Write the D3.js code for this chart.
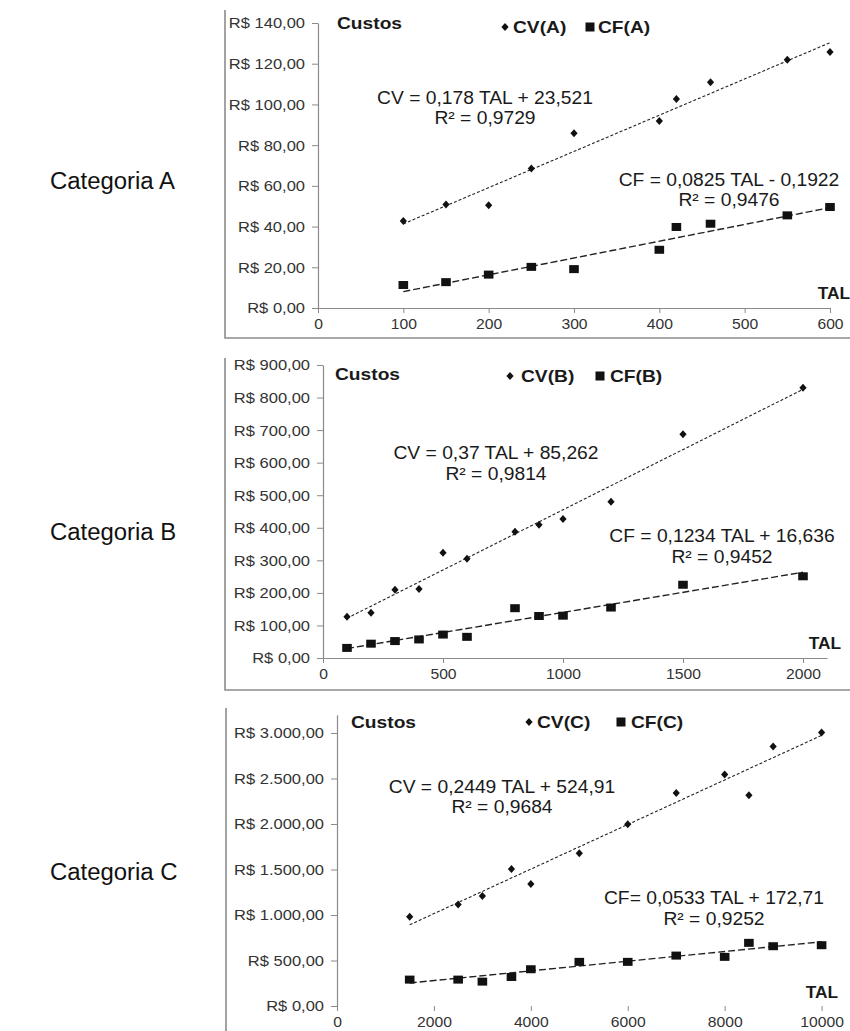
<!DOCTYPE html>
<html>
<head>
<meta charset="utf-8">
<script src="https://cdn.jsdelivr.net/npm/d3@7"></script>
<style>
  body { margin: 0; background: #fff; }
  svg { display: block; }
  text { font-family: "Liberation Sans", Arial, sans-serif; }
</style>
</head>
<body>
<svg id="chart" width="850" height="1031"></svg>
<script>
// ---- Data: cost (R$) by TAL, per category ----
const categories = ["Categoria A", "Categoria B", "Categoria C"];
const seriesCV = ["CV(A)", "CV(B)", "CV(C)"];
const seriesCF = ["CF(A)", "CF(B)", "CF(C)"];

const talA = [100, 150, 200, 250, 300, 400, 420, 460, 550, 600];
const cvA  = [42.7, 50.8, 50.5, 68.5, 85.8, 91.9, 102.7, 110.9, 121.9, 125.7];
const cfA  = [11.3, 12.7, 16.4, 20.2, 19.1, 28.6, 39.8, 41.4, 45.5, 49.6];

const talB = [100, 200, 300, 400, 500, 600, 800, 900, 1000, 1200, 1500, 2000];
const cvB  = [127, 139, 210, 212, 323, 305, 388, 409, 427, 480, 687, 830];
const cfB  = [31, 44, 52, 57, 72, 65, 153, 129, 130, 155, 225, 251];

const talC = [1500, 2500, 3000, 3600, 4000, 5000, 6000, 7000, 8000, 8500, 9000, 10000];
const cvC  = [980, 1116, 1208, 1505, 1340, 1678, 1997, 2342, 2544, 2316, 2852, 3006];
const cfC  = [290, 290, 268, 319, 404, 485, 485, 554, 540, 694, 657, 668];

// Linear trend lines (slope, intercept, R²)
const cvSlope = [0.178, 0.37, 0.2449];
const cvIntercept = [23.521, 85.262, 524.91];
const cvR2 = [0.9729, 0.9814, 0.9684];
const cfSlope = [0.0825, 0.1234, 0.0533];
const cfIntercept = [-0.1922, 16.636, 172.71];
const cfR2 = [0.9476, 0.9452, 0.9252];
const cfPrefix = ["CF = ", "CF = ", "CF= "];

// Axis ticks
const xTicksA = [0, 100, 200, 300, 400, 500, 600];
const yTicksA = [0, 20, 40, 60, 80, 100, 120, 140];
const xTicksB = [0, 500, 1000, 1500, 2000];
const yTicksB = [0, 100, 200, 300, 400, 500, 600, 700, 800, 900];
const xTicksC = [0, 2000, 4000, 6000, 8000, 10000];
const yTicksC = [0, 500, 1000, 1500, 2000, 2500, 3000];

// ---- Layout ----
const panels = [
  { tal: talA, cv: cvA, cf: cfA, xTicks: xTicksA, yTicks: yTicksA,
    xDomain: [0, 600], xRange: [318, 830], yDomain: [0, 140], yRange: [308, 23],
    frameTop: 10, frameBottom: 338, frameLeft: 225, xAxisLine: true,
    custos: [337, 23], legendY: 27, legendX: [505, 513, 590, 598],
    tal_: [834, 293], cvEq: [485, 98, 118], cfEq: [729, 180, 200], catY: 181 },
  { tal: talB, cv: cvB, cf: cfB, xTicks: xTicksB, yTicks: yTicksB,
    xDomain: [0, 2100], xRange: [323, 827], yDomain: [0, 900], yRange: [658, 365],
    frameTop: 358, frameBottom: 690, frameLeft: 225, xAxisLine: true,
    custos: [335, 374], legendY: 376, legendX: [510, 521, 600, 610],
    tal_: [825, 643], cvEq: [496, 453, 474], cfEq: [722, 536, 557], catY: 532 },
  { tal: talC, cv: cvC, cf: cfC, xTicks: xTicksC, yTicks: yTicksC,
    xDomain: [0, 10000], xRange: [337, 821.6], yDomain: [0, 3200], yRange: [1006, 714.8],
    frameTop: 708, frameBottom: 1040, frameLeft: 226, xAxisLine: false,
    custos: [351, 722], legendY: 722, legendX: [529, 537, 621, 631],
    tal_: [822, 992], cvEq: [502, 787, 807], cfEq: [714, 898, 919], catY: 872 }
];

const AXIS = "#8a8a8a";
const INK = "#1a1a1a";
const brl = d3.formatLocale({ decimal: ",", thousands: ".", grouping: [3], currency: ["R$ ", ""] });
const fmtMoney = v => "R$ " + brl.format(",.2f")(v);
const comma = v => String(Math.abs(v)).replace(".", ",");

const svg = d3.select("#chart");
svg.append("rect").attr("width", 850).attr("height", 1031).attr("fill", "#fff");

function label(g, x, y, txt, o = {}) {
  return g.append("text")
    .attr("transform", `translate(${x},${y}) scale(${o.sx || 1},1)`)
    .attr("text-anchor", o.anchor || "middle")
    .attr("dy", "0.35em")
    .style("font-size", (o.size || 14) + "px")
    .style("font-weight", o.bold ? "bold" : "normal")
    .attr("fill", o.fill || INK)
    .text(txt);
}

panels.forEach((p, i) => {
  const g = svg.append("g");

  // chart frame (left and bottom edges)
  g.append("path")
    .attr("d", `M${p.frameLeft},${p.frameTop} V${p.frameBottom} H852`)
    .attr("fill", "none").attr("stroke", "#8c8c8c").attr("stroke-width", 1.6);

  // category label
  label(g, 50, p.catY, categories[i], { anchor: "start", size: 23, sx: 1.04, fill: "#111" });

  const x = d3.scaleLinear().domain(p.xDomain).range(p.xRange);
  const y = d3.scaleLinear().domain(p.yDomain).range(p.yRange);

  // y axis
  const gy = g.append("g").attr("transform", `translate(${p.xRange[0]},0)`)
    .call(d3.axisLeft(y).tickValues(p.yTicks).tickFormat(fmtMoney).tickSize(6).tickSizeOuter(0));
  gy.select(".domain").attr("stroke", AXIS).attr("stroke-width", 1.2);
  gy.selectAll(".tick line").attr("stroke", AXIS);
  gy.selectAll(".tick text")
    .attr("x", null).attr("dy", "0.35em")
    .attr("transform", "translate(-13,0) scale(1.18,1)")
    .attr("text-anchor", "end")
    .style("font-size", "14px").attr("fill", "#333");

  // x axis
  const gx = g.append("g").attr("transform", `translate(0,${p.yRange[0]})`)
    .call(d3.axisBottom(x).tickValues(p.xTicks).tickFormat(d3.format("d")).tickSize(5).tickSizeOuter(0));
  gx.select(".domain").attr("stroke", p.xAxisLine ? AXIS : "none").attr("stroke-width", 1.2);
  gx.selectAll(".tick line").attr("stroke", AXIS);
  gx.selectAll(".tick text")
    .attr("y", null).attr("dy", "0.35em")
    .attr("transform", "translate(0,16) scale(1.12,1)")
    .style("font-size", "14px").attr("fill", "#333");

  // trend lines
  const ext = d3.extent(p.tal);
  const line = d3.line().x(d => x(d[0])).y(d => y(d[1]));
  g.append("path")
    .attr("d", line(ext.map(t => [t, cvSlope[i] * t + cvIntercept[i]])))
    .attr("fill", "none").attr("stroke", "#222").attr("stroke-width", 1.1)
    .attr("stroke-dasharray", "3,2");
  g.append("path")
    .attr("d", line(ext.map(t => [t, cfSlope[i] * t + cfIntercept[i]])))
    .attr("fill", "none").attr("stroke", "#222").attr("stroke-width", 1.4)
    .attr("stroke-dasharray", "7,3");

  // CV markers (diamonds)
  const diamond = "M0,-4 L3.6,0 L0,4 L-3.6,0 Z";
  g.selectAll(".cv").data(p.tal.map((t, k) => [t, p.cv[k]])).join("path")
    .attr("class", "cv")
    .attr("transform", d => `translate(${x(d[0])},${y(d[1])})`)
    .attr("d", diamond).attr("fill", "#111");

  // CF markers (squares)
  g.selectAll(".cf").data(p.tal.map((t, k) => [t, p.cf[k]])).join("rect")
    .attr("class", "cf")
    .attr("x", d => x(d[0]) - 4.8).attr("y", d => y(d[1]) - 4)
    .attr("width", 9.6).attr("height", 8).attr("fill", "#111");

  // titles
  label(g, p.custos[0], p.custos[1], "Custos", { anchor: "start", size: 16, bold: true, sx: 1.2 });
  label(g, p.tal_[0], p.tal_[1], "TAL", { size: 17, bold: true, sx: 1.02 });

  // legend
  const [dx, tx1, sx2, tx2] = p.legendX;
  g.append("path").attr("transform", `translate(${dx},${p.legendY})`)
    .attr("d", diamond).attr("fill", "#111");
  label(g, tx1, p.legendY, seriesCV[i], { anchor: "start", size: 16, bold: true, sx: 1.2 });
  g.append("rect").attr("x", sx2 - 4.5).attr("y", p.legendY - 4.5)
    .attr("width", 9).attr("height", 9).attr("fill", "#111");
  label(g, tx2, p.legendY, seriesCF[i], { anchor: "start", size: 16, bold: true, sx: 1.2 });

  // trend line equations
  const sign = v => (v < 0 ? " - " : " + ");
  label(g, p.cvEq[0], p.cvEq[1],
    `CV = ${comma(cvSlope[i])} TAL${sign(cvIntercept[i])}${comma(cvIntercept[i])}`,
    { size: 18, sx: 1.07 });
  label(g, p.cvEq[0], p.cvEq[2], `R² = ${comma(cvR2[i])}`, { size: 18, sx: 1.07 });
  label(g, p.cfEq[0], p.cfEq[1],
    `${cfPrefix[i]}${comma(cfSlope[i])} TAL${sign(cfIntercept[i])}${comma(cfIntercept[i])}`,
    { size: 18, sx: 1.07 });
  label(g, p.cfEq[0], p.cfEq[2], `R² = ${comma(cfR2[i])}`, { size: 18, sx: 1.07 });
});
</script>
</body>
</html>
